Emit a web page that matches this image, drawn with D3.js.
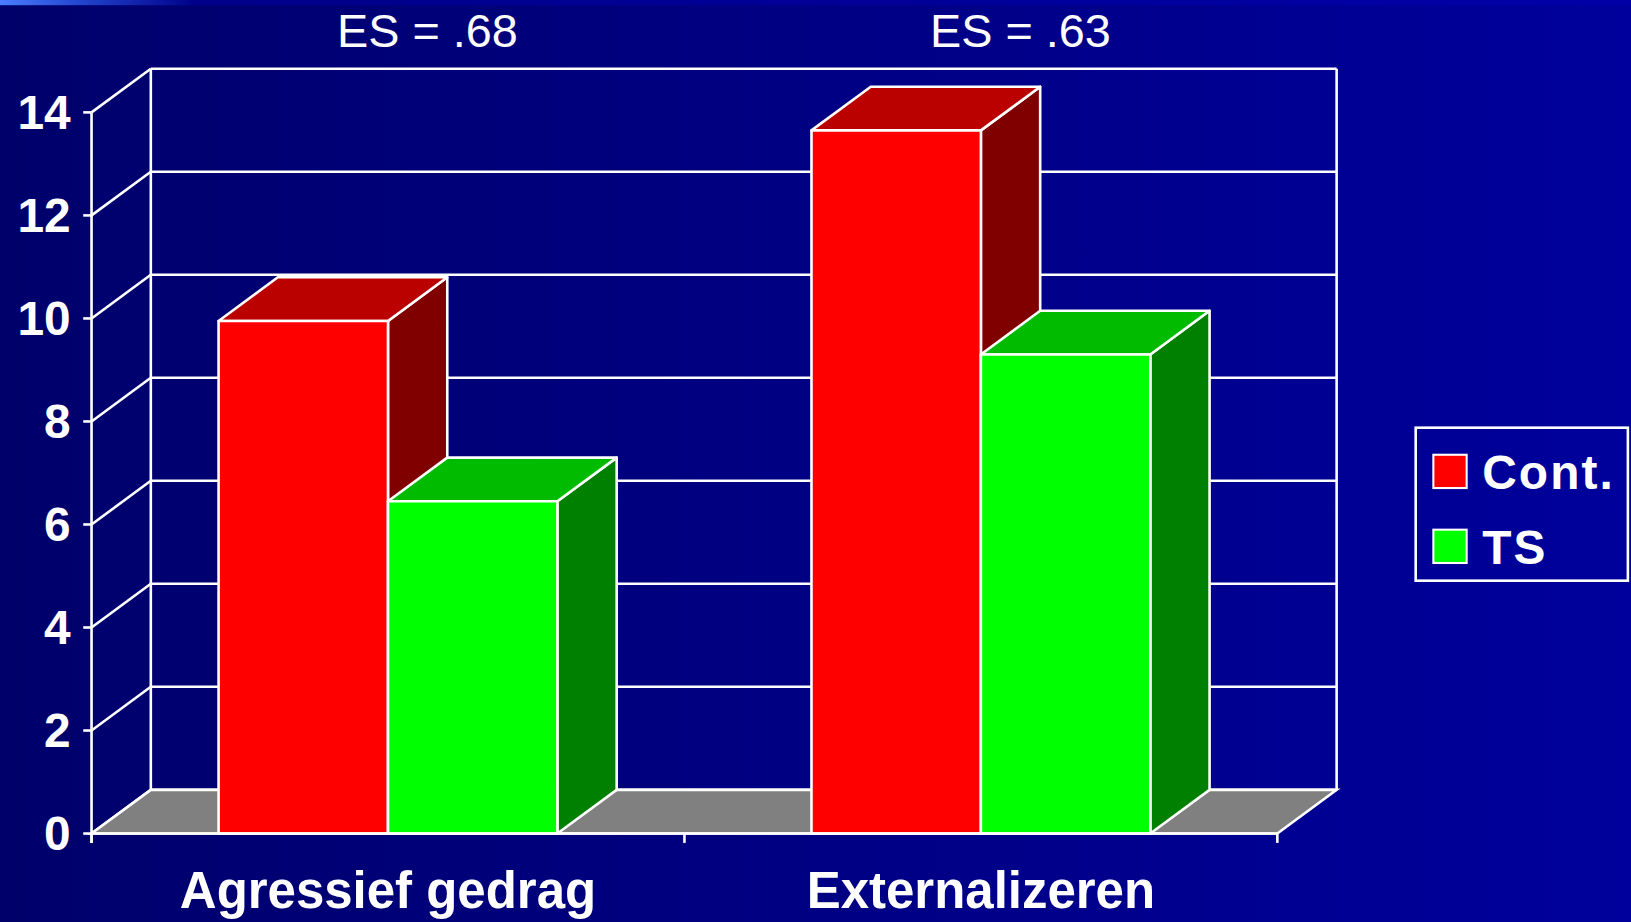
<!DOCTYPE html>
<html>
<head>
<meta charset="utf-8">
<title>Agressief gedrag / Externalizeren</title>
<script src="https://d3js.org/d3.v7.min.js"></script>
<style>
    html, body { margin: 0; padding: 0; background: #000080; overflow: hidden; }
    svg { display: block; }
    text { font-family: "Liberation Sans", Arial, sans-serif; fill: #fff; }
</style>
</head>
<body>
<div id="holder"></div>
<script>
    //Data
    const categories = ["Agressief gedrag", "Externalizeren"];
    const series = ["Cont.", "TS"];
    const contValues = [9.95, 13.65];
    const tsValues = [6.45, 9.3];
    const esLabels = ["ES = .68", "ES = .63"];
    const yTicks = [0, 2, 4, 6, 8, 10, 12, 14];

    //Colours: front, top, side
    const colours = {
        "Cont.": ["#ff0000", "#bb0000", "#800000"],
        "TS": ["#00ff00", "#00bb00", "#008000"]
    };

    //Layout (drawn in a 1568x886 box, stretched to the window)
    const w = 1568, h = 886;
    const x0 = 88, x1 = 1228;
    const dx = 57, dy = -42;   // depth of the 3d box
    const sw = 2.5;

    const svg = d3.select("#holder").append("svg")
        .attr("width", 1631).attr("height", 922)
        .attr("viewBox", "0 0 " + w + " " + h)
        .attr("preserveAspectRatio", "none");

    const defs = svg.append("defs");
    const bg = defs.append("linearGradient").attr("id", "bg");
    bg.append("stop").attr("offset", "0").attr("stop-color", "#00006b");
    bg.append("stop").attr("offset", "1").attr("stop-color", "#00009c");
    const strip = defs.append("linearGradient").attr("id", "strip");
    strip.append("stop").attr("offset", "0").attr("stop-color", "#4a7dff");
    strip.append("stop").attr("offset", "0.05").attr("stop-color", "#2244cc");
    strip.append("stop").attr("offset", "0.12").attr("stop-color", "#00008a");
    strip.append("stop").attr("offset", "1").attr("stop-color", "#0000a8");

    svg.append("rect").attr("width", w).attr("height", h).attr("fill", "url(#bg)");
    svg.append("rect").attr("width", w).attr("height", 5).attr("fill", "url(#strip)");

    //Scales
    const y = d3.scaleLinear().domain([0, 14]).range([801, 108]);
    const xGroup = d3.scaleBand().domain(categories).range([x0, x1]);
    const xSeries = d3.scaleBand().domain(series).range([0, xGroup.bandwidth()])
        .paddingInner(0).paddingOuter(0.75);

    const walls = svg.append("g")
        .attr("stroke", "#fff").attr("stroke-width", sw).attr("fill", "none");

    //Back wall gridlines
    walls.selectAll("line.grid").data(yTicks).enter().append("line")
        .attr("class", "grid")
        .attr("x1", x0 + dx).attr("x2", x1 + dx)
        .attr("y1", d => y(d) + dy).attr("y2", d => y(d) + dy);
    //Side wall diagonals
    walls.selectAll("line.diag").data(yTicks).enter().append("line")
        .attr("class", "diag")
        .attr("x1", x0).attr("x2", x0 + dx)
        .attr("y1", d => y(d)).attr("y2", d => y(d) + dy);
    //Wall verticals
    walls.append("line").attr("x1", x0 + dx).attr("x2", x0 + dx)
        .attr("y1", y(14) + dy).attr("y2", y(0) + dy);
    walls.append("line").attr("x1", x1 + dx).attr("x2", x1 + dx)
        .attr("y1", y(14) + dy).attr("y2", y(0) + dy);

    //Floor
    svg.append("path")
        .attr("d", "M" + x0 + "," + y(0) + "L" + x1 + "," + y(0) + "L" + (x1 + dx) + "," + (y(0) + dy) +
            "L" + (x0 + dx) + "," + (y(0) + dy) + "Z")
        .attr("fill", "#808080").attr("stroke", "#fff").attr("stroke-width", sw);

    //Bars
    const rows = [];
    categories.forEach((c, i) => {
        rows.push({cat: c, s: "Cont.", v: contValues[i]});
        rows.push({cat: c, s: "TS", v: tsValues[i]});
    });

    const bars = svg.append("g").selectAll("g.bar").data(rows).enter().append("g")
        .attr("class", "bar")
        .attr("stroke", "#fff").attr("stroke-width", sw).attr("stroke-linejoin", "round");

    bars.each(function(d) {
        const g = d3.select(this);
        const bx = xGroup(d.cat) + xSeries(d.s);
        const bw = xSeries.bandwidth();
        const top = y(d.v), base = y(0);
        const col = colours[d.s];
        //side
        g.append("path")
            .attr("d", "M" + (bx + bw) + "," + top + "L" + (bx + bw + dx) + "," + (top + dy) +
                "L" + (bx + bw + dx) + "," + (base + dy) + "L" + (bx + bw) + "," + base + "Z")
            .attr("fill", col[2]);
        //top
        g.append("path")
            .attr("d", "M" + bx + "," + top + "L" + (bx + dx) + "," + (top + dy) +
                "L" + (bx + bw + dx) + "," + (top + dy) + "L" + (bx + bw) + "," + top + "Z")
            .attr("fill", col[1]);
        //front
        g.append("rect")
            .attr("x", bx).attr("y", top).attr("width", bw).attr("height", base - top)
            .attr("fill", col[0]);
    });

    //Front axes
    const axes = svg.append("g").attr("stroke", "#fff").attr("stroke-width", sw);
    axes.append("line").attr("x1", x0).attr("x2", x0).attr("y1", y(14)).attr("y2", y(0) + 9);
    axes.append("line").attr("x1", x0).attr("x2", x1).attr("y1", y(0)).attr("y2", y(0));
    axes.selectAll("line.yt").data(yTicks).enter().append("line")
        .attr("x1", x0 - 8).attr("x2", x0).attr("y1", d => y(d)).attr("y2", d => y(d));
    axes.selectAll("line.xt").data(xGroup.domain().map(c => xGroup(c)).concat([x1])).enter().append("line")
        .attr("x1", d => d).attr("x2", d => d).attr("y1", y(0)).attr("y2", y(0) + 9);

    //Tick labels
    svg.selectAll("text.ytl").data(yTicks).enter().append("text")
        .attr("class", "ytl")
        .attr("x", 68).attr("y", d => y(d) + 16)
        .attr("text-anchor", "end")
        .style("font-size", "46px").style("font-weight", "bold")
        .text(d => d);

    svg.selectAll("text.cat").data(categories).enter().append("text")
        .attr("class", "cat")
        .attr("x", d => xGroup(d) + xGroup.bandwidth() / 2)
        .attr("y", 873)
        .attr("text-anchor", "middle")
        .style("font-size", "49px").style("font-weight", "bold")
        .text(d => d);

    //ES labels
    svg.selectAll("text.es").data(esLabels).enter().append("text")
        .attr("class", "es")
        .attr("x", (d, i) => xGroup(categories[i]) + xGroup.bandwidth() / 2 + 38)
        .attr("y", 45)
        .attr("text-anchor", "middle")
        .style("font-size", "45px")
        .text(d => d);

    //Legend
    const legend = svg.append("g").attr("transform", "translate(1361,411)");
    legend.append("rect").attr("width", 204).attr("height", 147)
        .attr("fill", "none").attr("stroke", "#fff").attr("stroke-width", sw);
    const li = legend.selectAll("g").data(series).enter().append("g")
        .attr("transform", (d, i) => "translate(17," + (26 + i * 72) + ")");
    li.append("rect").attr("width", 32).attr("height", 32)
        .attr("fill", d => colours[d][0]).attr("stroke", "#fff").attr("stroke-width", 2);
    li.append("text").attr("x", 47).attr("y", 33)
        .style("font-size", "46px").style("font-weight", "bold").style("letter-spacing", "2px")
        .text(d => d);
</script>
</body>
</html>
